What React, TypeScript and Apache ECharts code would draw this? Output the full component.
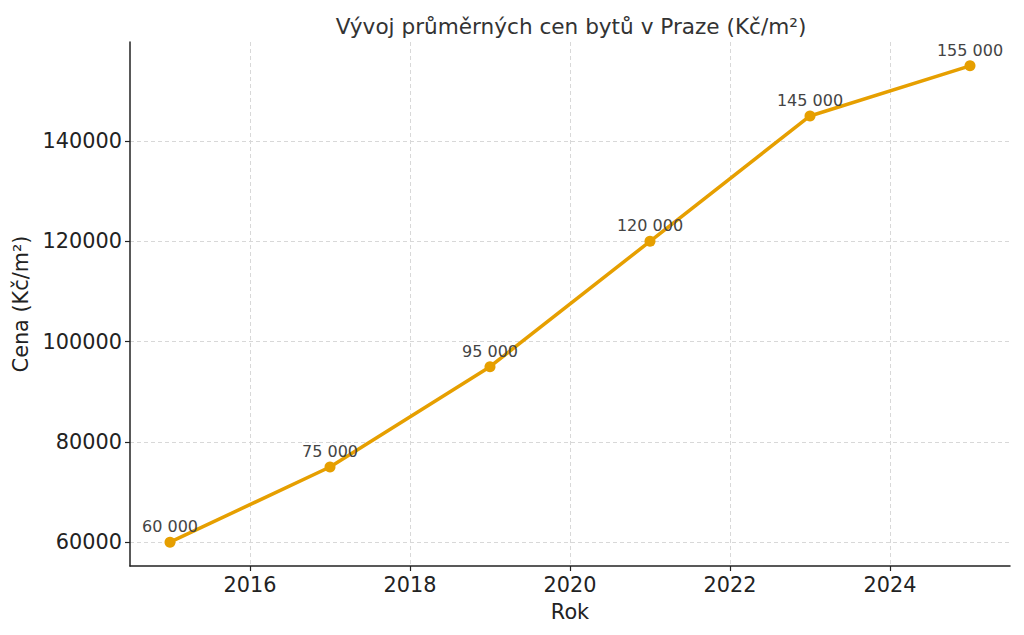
import React, { useEffect, useRef } from "react";
import * as echarts from "echarts";

const years = [2015, 2017, 2019, 2021, 2023, 2025];
const prices = [60000, 75000, 95000, 120000, 145000, 155000];
const xTicks = [2016, 2018, 2020, 2022, 2024];
const yTicks = [60000, 80000, 100000, 120000, 140000];

const FONT = "DejaVu Sans";

export default function App() {
  const ref = useRef<HTMLDivElement>(null);
  useEffect(() => {
    const chart = echarts.init(ref.current!, null, { renderer: "svg" });
    chart.setOption({
      animation: false,
      backgroundColor: "#ffffff",
      textStyle: { fontFamily: FONT },
      title: {
        text: "Vývoj průměrných cen bytů v Praze (Kč/m²)",
        left: 566,
        textAlign: "center",
        top: 10,
        textStyle: { fontFamily: FONT, fontSize: 21.6, fontWeight: "normal", color: "#333333" },
      },
      grid: { left: 130, right: 14, top: 42, bottom: 69, containLabel: false, outerBoundsMode: "none" },
      xAxis: {
        type: "value",
        min: 2014.5,
        max: 2025.5,
        name: "Rok",
        nameLocation: "middle",
        nameGap: 35,
        nameTextStyle: { fontFamily: FONT, fontSize: 20.8, color: "#222222" },
        axisLine: { show: true, onZero: false, lineStyle: { color: "#222222", width: 1.5 } },
        axisTick: { show: true, customValues: xTicks, length: 5, lineStyle: { color: "#222222", width: 1.2 } },
        axisLabel: {
          customValues: xTicks,
          formatter: (v: number) => String(v),
          fontFamily: FONT,
          fontSize: 20.8,
          color: "#222222",
          margin: 8,
        },
        splitLine: { show: true, lineStyle: { color: "#d8d8d8", type: [4, 3], width: 1 } },
      },
      yAxis: {
        type: "value",
        min: 55250,
        max: 159750,
        name: "Cena (Kč/m²)",
        nameLocation: "middle",
        nameGap: 98,
        nameRotate: 90,
        nameTextStyle: { fontFamily: FONT, fontSize: 20.8, color: "#222222" },
        axisLine: { show: true, onZero: false, lineStyle: { color: "#222222", width: 1.5 } },
        axisTick: { show: true, customValues: yTicks, length: 5, lineStyle: { color: "#222222", width: 1.2 } },
        axisLabel: {
          customValues: yTicks,
          formatter: (v: number) => String(v),
          fontFamily: FONT,
          fontSize: 20.8,
          color: "#222222",
          margin: 8,
        },
        splitLine: { show: true, lineStyle: { color: "#d8d8d8", type: [4, 3], width: 1 } },
      },
      series: [
        {
          type: "line",
          data: years.map((y, i) => [y, prices[i]]),
          symbol: "circle",
          symbolSize: 11,
          lineStyle: { color: "#E69F00", width: 3.5 },
          itemStyle: { color: "#E69F00" },
          label: {
            show: true,
            position: "top",
            distance: 2,
            fontFamily: FONT,
            fontSize: 16,
            color: "#444444",
            formatter: (p: any) => String(p.value[1]).replace(/\B(?=(\d{3})+(?!\d))/g, " "),
          },
        },
      ],
    });
    return () => chart.dispose();
  }, []);
  return <div ref={ref} style={{ width: 1024, height: 635, position: "fixed", left: 0, top: 0 }} />;
}
